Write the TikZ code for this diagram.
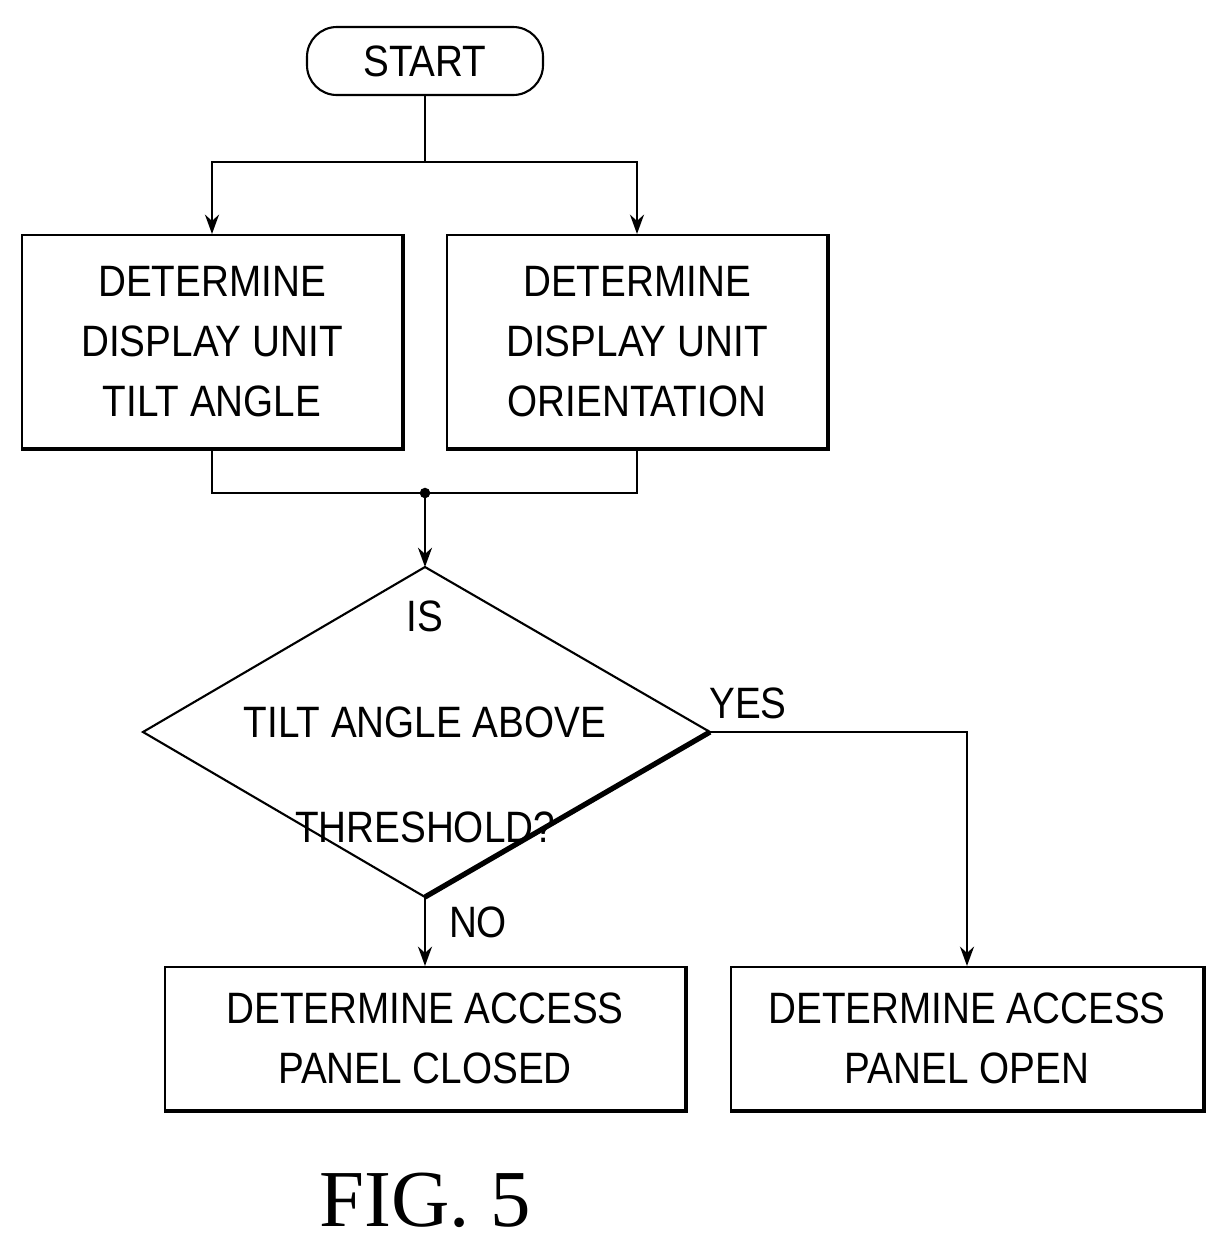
\documentclass[tikz,border=0pt]{standalone}
\usepackage{fontspec}
\setmainfont{Liberation Sans}[FakeStretch=0.88]
\newfontfamily\figfont{Liberation Serif}
\usetikzlibrary{arrows.meta}
\begin{document}
\begin{tikzpicture}[x=0.02cm,y=-0.02cm,
 box/.style={draw,line width=1.2pt,align=center,font=\fontsize{25}{34}\selectfont,inner sep=0pt},
 ln/.style={line width=1.2pt},
 arr/.style={ln,-{Stealth[length=11pt,width=8pt]}}]
\useasboundingbox (0,0) rectangle (1227,1249);
\node[box,rounded corners=17pt,minimum width=236*0.02cm,minimum height=68*0.02cm] (start) at (425,61) {START};
\node[box,minimum width=380*0.02cm,minimum height=213*0.02cm] (b1) at (212,341.5) {DETERMINE\\DISPLAY UNIT\\TILT ANGLE};
\node[box,minimum width=380*0.02cm,minimum height=213*0.02cm] (b2) at (637,341.5) {DETERMINE\\DISPLAY UNIT\\ORIENTATION};
\coordinate (s) at (425,162);
\coordinate (m) at (425,493);
\coordinate (dt) at (425,567);
\coordinate (dl) at (143,732);
\coordinate (dr) at (710,732);
\coordinate (db) at (425,897);
\draw[ln] (dt) -- (dr) -- (db) -- (dl) -- cycle;
\draw[line width=3pt] (dr) -- (db);
\node[align=center,font=\fontsize{25}{60}\selectfont] (q) at (425,722) {IS\\TILT ANGLE ABOVE\\THRESHOLD?};
\node[box,minimum width=520*0.02cm,minimum height=143*0.02cm] (b3) at (425,1038.5) {DETERMINE ACCESS\\PANEL CLOSED};
\node[box,minimum width=472*0.02cm,minimum height=143*0.02cm] (b4) at (967,1038.5) {DETERMINE ACCESS\\PANEL OPEN};
% shadow edges
\foreach \n in {b1,b2,b3,b4}{\draw[line width=2.4pt] (\n.north east) -- (\n.south east) -- (\n.south west);}
\draw[ln] (start.south) -- (s);
\draw[arr] (s) -| (b1.north);
\draw[arr] (s) -| (b2.north);
\draw[ln] (b1.south) |- (m);
\draw[ln] (b2.south) |- (m);
\fill (m) circle (3pt);
\draw[arr] (m) -- (dt);
\draw[arr] (dr) -| (b4.north);
\draw[arr] (db) -- (b3.north);
\node[font=\fontsize{25}{30}\selectfont] (yes) at (748,703) {YES};
\node[font=\fontsize{25}{30}\selectfont] (no) at (478,922) {NO};
\node[font=\figfont\fontsize{46}{50}\selectfont] (fig) at (425,1200) {FIG. 5};
\end{tikzpicture}
\end{document}
